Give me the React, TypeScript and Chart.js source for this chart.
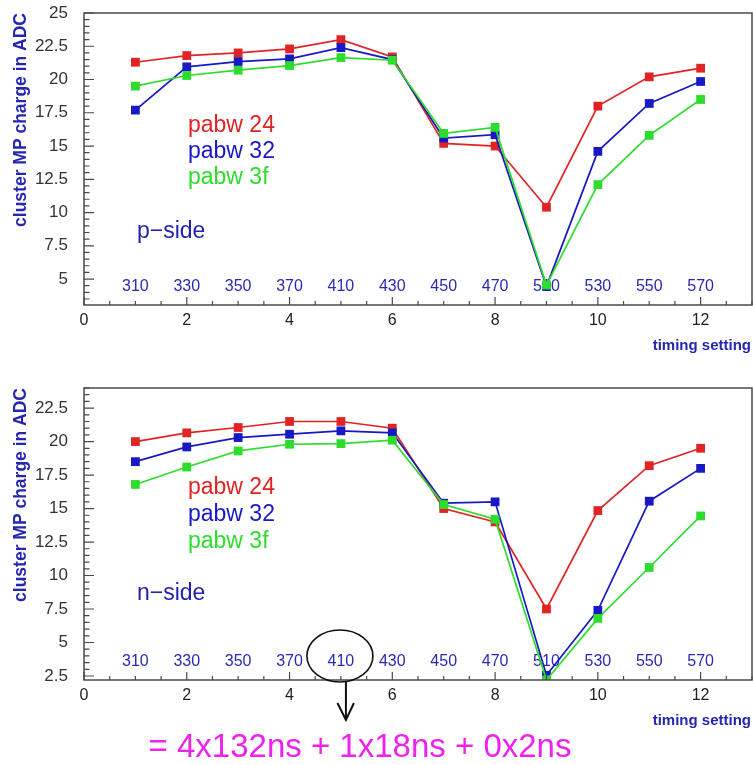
import React, { useEffect, useRef } from 'react';
import { Chart, registerables } from 'chart.js';

Chart.register(...registerables);

// ---------- data ----------
const timingSettings = [1, 2, 3, 4, 5, 6, 7, 8, 9, 10, 11, 12];
const delayLabels = ['310', '330', '350', '370', '410', '430', '450', '470', '510', '530', '550', '570'];

const pSidePabw24 = [21.3, 21.8, 22.0, 22.3, 23.0, 21.7, 15.2, 15.0, 10.4, 18.0, 20.2, 20.85];
const pSidePabw32 = [17.7, 20.95, 21.35, 21.55, 22.4, 21.5, 15.6, 15.85, 4.45, 14.6, 18.2, 19.85];
const pSidePabw3f = [19.5, 20.3, 20.7, 21.05, 21.65, 21.45, 15.95, 16.4, 4.55, 12.1, 15.8, 18.5];

const nSidePabw24 = [20.0, 20.65, 21.05, 21.5, 21.5, 21.0, 15.0, 14.0, 7.5, 14.85, 18.2, 19.5];
const nSidePabw32 = [18.5, 19.6, 20.3, 20.55, 20.8, 20.65, 15.4, 15.5, 2.55, 7.4, 15.55, 18.0];
const nSidePabw3f = [16.8, 18.1, 19.3, 19.8, 19.85, 20.1, 15.3, 14.2, 2.2, 6.8, 10.6, 14.45];

const seriesNames = ['pabw 24', 'pabw 32', 'pabw 3f'];
const xTickValues = [0, 2, 4, 6, 8, 10, 12];
const pSideYTicks = [5, 7.5, 10, 12.5, 15, 17.5, 20, 22.5, 25];
const nSideYTicks = [2.5, 5, 7.5, 10, 12.5, 15, 17.5, 20, 22.5];

const yTitle = 'cluster MP charge in ADC';
const xTitle = 'timing setting';
const annotationText = '= 4x132ns + 1x18ns + 0x2ns';

// ---------- styles ----------
const FONT = "'Liberation Sans', Arial, Helvetica, sans-serif";
const RED = '#e02424';
const BLUE = '#1818c4';
const GREEN = '#2edc2e';
const LABEL_BLUE = '#2a2ab0';
const TITLE_BLUE = '#2626b0';
const W = 753;

type PanelCfg = {
  height: number;
  yMin: number;
  yMax: number;
  yTicks: number[];
  series: number[][];
  sideLabel: string;
  sideY: number;
  legendY: number[];
  annotate: boolean;
};

function makeChart(canvas: HTMLCanvasElement, cfg: PanelCfg) {
  const colors = [RED, BLUE, GREEN];
  const orders = [2, 1, 0];
  const datasets = cfg.series.map((vals, i) => ({
    label: seriesNames[i],
    data: timingSettings.map((x, k) => ({ x, y: vals[k] })),
    borderColor: colors[i],
    backgroundColor: colors[i],
    borderWidth: 1.7,
    pointStyle: 'rect' as const,
    pointRadius: 6.2,
    pointBorderWidth: 0,
    pointBackgroundColor: colors[i],
    tension: 0,
    order: orders[i],
  }));

  const decor = {
    id: 'decor',
    beforeDatasetsDraw(chart: any) {
      const { ctx, chartArea } = chart;
      const xs = chart.scales.x;
      ctx.save();
      ctx.font = `16px ${FONT}`;
      ctx.fillStyle = LABEL_BLUE;
      ctx.textAlign = 'center';
      ctx.textBaseline = 'middle';
      timingSettings.forEach((t, i) => {
        ctx.fillText(delayLabels[i], xs.getPixelForValue(t), chartArea.bottom - 18);
      });
      // legend texts
      ctx.font = `23px ${FONT}`;
      ctx.textAlign = 'left';
      seriesNames.forEach((n, i) => {
        ctx.fillStyle = colors[i];
        ctx.fillText(n, 188, cfg.legendY[i]);
      });
      ctx.fillStyle = '#2222aa';
      ctx.fillText(cfg.sideLabel, 137, cfg.sideY);
      ctx.restore();
    },
    afterDraw(chart: any) {
      const { ctx, chartArea } = chart;
      const xs = chart.scales.x;
      const ys = chart.scales.y;
      const { left, right, top, bottom } = chartArea;
      ctx.save();
      // frame
      ctx.strokeStyle = '#4a4a4a';
      ctx.lineWidth = 1.5;
      ctx.strokeRect(left, top, right - left, bottom - top);
      // x ticks (inside, upward)
      ctx.lineWidth = 1.2;
      ctx.beginPath();
      for (let v = 0; v <= 13.001; v += 0.5) {
        const px = xs.getPixelForValue(v);
        const major = Math.abs(v % 2) < 1e-6;
        ctx.moveTo(px, bottom);
        ctx.lineTo(px, bottom - (major ? 8 : 4));
      }
      // y ticks (inside, rightward)
      const start = Math.ceil(cfg.yMin * 2) / 2;
      for (let v = start; v <= cfg.yMax + 1e-6; v += 0.5) {
        const py = ys.getPixelForValue(v);
        const major = Math.abs((v / 2.5) - Math.round(v / 2.5)) < 1e-6;
        ctx.moveTo(left, py);
        ctx.lineTo(left + (major ? 10 : 5.5), py);
      }
      ctx.stroke();

      // y title
      ctx.save();
      ctx.translate(21, top);
      ctx.rotate(-Math.PI / 2);
      ctx.font = `bold 17.5px ${FONT}`;
      ctx.fillStyle = TITLE_BLUE;
      ctx.textAlign = 'right';
      ctx.textBaseline = 'middle';
      ctx.fillText(yTitle, 0, 0);
      ctx.restore();

      // x title
      ctx.font = `bold 15px ${FONT}`;
      ctx.fillStyle = TITLE_BLUE;
      ctx.textAlign = 'right';
      ctx.textBaseline = 'middle';
      ctx.fillText(xTitle, 751, bottom + 41);

      if (cfg.annotate) {
        const cx = xs.getPixelForValue(5) - 1;
        ctx.strokeStyle = '#111';
        ctx.lineWidth = 1.6;
        ctx.beginPath();
        ctx.ellipse(cx, bottom - 24, 33, 26, 0, 0, Math.PI * 2);
        ctx.stroke();
        const ax = xs.getPixelForValue(5) + 5;
        ctx.lineWidth = 2;
        ctx.beginPath();
        ctx.moveTo(ax, bottom + 2);
        ctx.lineTo(ax, bottom + 40);
        ctx.moveTo(ax - 8.5, bottom + 23);
        ctx.lineTo(ax, bottom + 40);
        ctx.lineTo(ax + 8, bottom + 23);
        ctx.stroke();
        ctx.font = `33px ${FONT}`;
        ctx.fillStyle = '#ee22ee';
        ctx.textAlign = 'center';
        ctx.textBaseline = 'middle';
        ctx.fillText(annotationText, 360, bottom + 68);
      }
      ctx.restore();
    },
  };

  return new Chart(canvas, {
    type: 'line',
    data: { datasets },
    plugins: [decor],
    options: {
      responsive: false,
      animation: false,
      devicePixelRatio: 1,
      layout: { autoPadding: false, padding: { top: 13, right: 1, left: 0, bottom: 0 } },
      plugins: { legend: { display: false }, tooltip: { enabled: false }, title: { display: false } },
      scales: {
        x: {
          type: 'linear',
          min: 0,
          max: 13,
          grid: { display: false, drawTicks: false },
          border: { display: false },
          afterBuildTicks: (s: any) => {
            s.ticks = xTickValues.map((v) => ({ value: v }));
          },
          afterFit: (s: any) => {
            s.height = cfg.height - 305;
            s.paddingLeft = 0;
            s.paddingRight = 0;
            s.paddingTop = 0;
            s.paddingBottom = 0;
          },
          ticks: {
            padding: 6,
            maxRotation: 0,
            autoSkip: false,
            color: '#222',
            font: { family: FONT, size: 16 },
            callback: (v: any) => String(v),
          },
        },
        y: {
          type: 'linear',
          min: cfg.yMin,
          max: cfg.yMax,
          grid: { display: false, drawTicks: false },
          border: { display: false },
          afterBuildTicks: (s: any) => {
            s.ticks = cfg.yTicks.map((v) => ({ value: v }));
          },
          afterFit: (s: any) => {
            s.width = 84;
            s.paddingLeft = 0;
            s.paddingRight = 0;
            s.paddingTop = 0;
            s.paddingBottom = 0;
          },
          ticks: {
            padding: 16,
            autoSkip: false,
            color: '#333',
            font: { family: FONT, size: 17 },
            callback: (v: any) => String(v),
          },
        },
      },
    },
  } as any);
}

function Panel({ cfg, top }: { cfg: PanelCfg; top: number }) {
  const ref = useRef<HTMLCanvasElement>(null);
  useEffect(() => {
    if (!ref.current) return;
    const c = makeChart(ref.current, cfg);
    return () => c.destroy();
  }, []);
  return (
    <canvas
      ref={ref}
      width={W}
      height={cfg.height}
      style={{ position: 'absolute', left: 0, top, width: W, height: cfg.height, display: 'block' }}
    />
  );
}

const pCfg: PanelCfg = {
  height: 360,
  yMin: 3.05,
  yMax: 25,
  yTicks: pSideYTicks,
  series: [pSidePabw24, pSidePabw32, pSidePabw3f],
  sideLabel: 'p\u2212side',
  sideY: 232,
  legendY: [126, 152, 178],
  annotate: false,
};

const nCfg: PanelCfg = {
  height: 390,
  yMin: 2.2,
  yMax: 24,
  yTicks: nSideYTicks,
  series: [nSidePabw24, nSidePabw32, nSidePabw3f],
  sideLabel: 'n\u2212side',
  sideY: 219,
  legendY: [113, 140, 167],
  annotate: true,
};

export default function App() {
  return (
    <div style={{ position: 'absolute', left: 0, top: 0, width: W, height: 765, background: '#fff', overflow: 'hidden' }}>
      <Panel cfg={pCfg} top={0} />
      <Panel cfg={nCfg} top={375} />
    </div>
  );
}
